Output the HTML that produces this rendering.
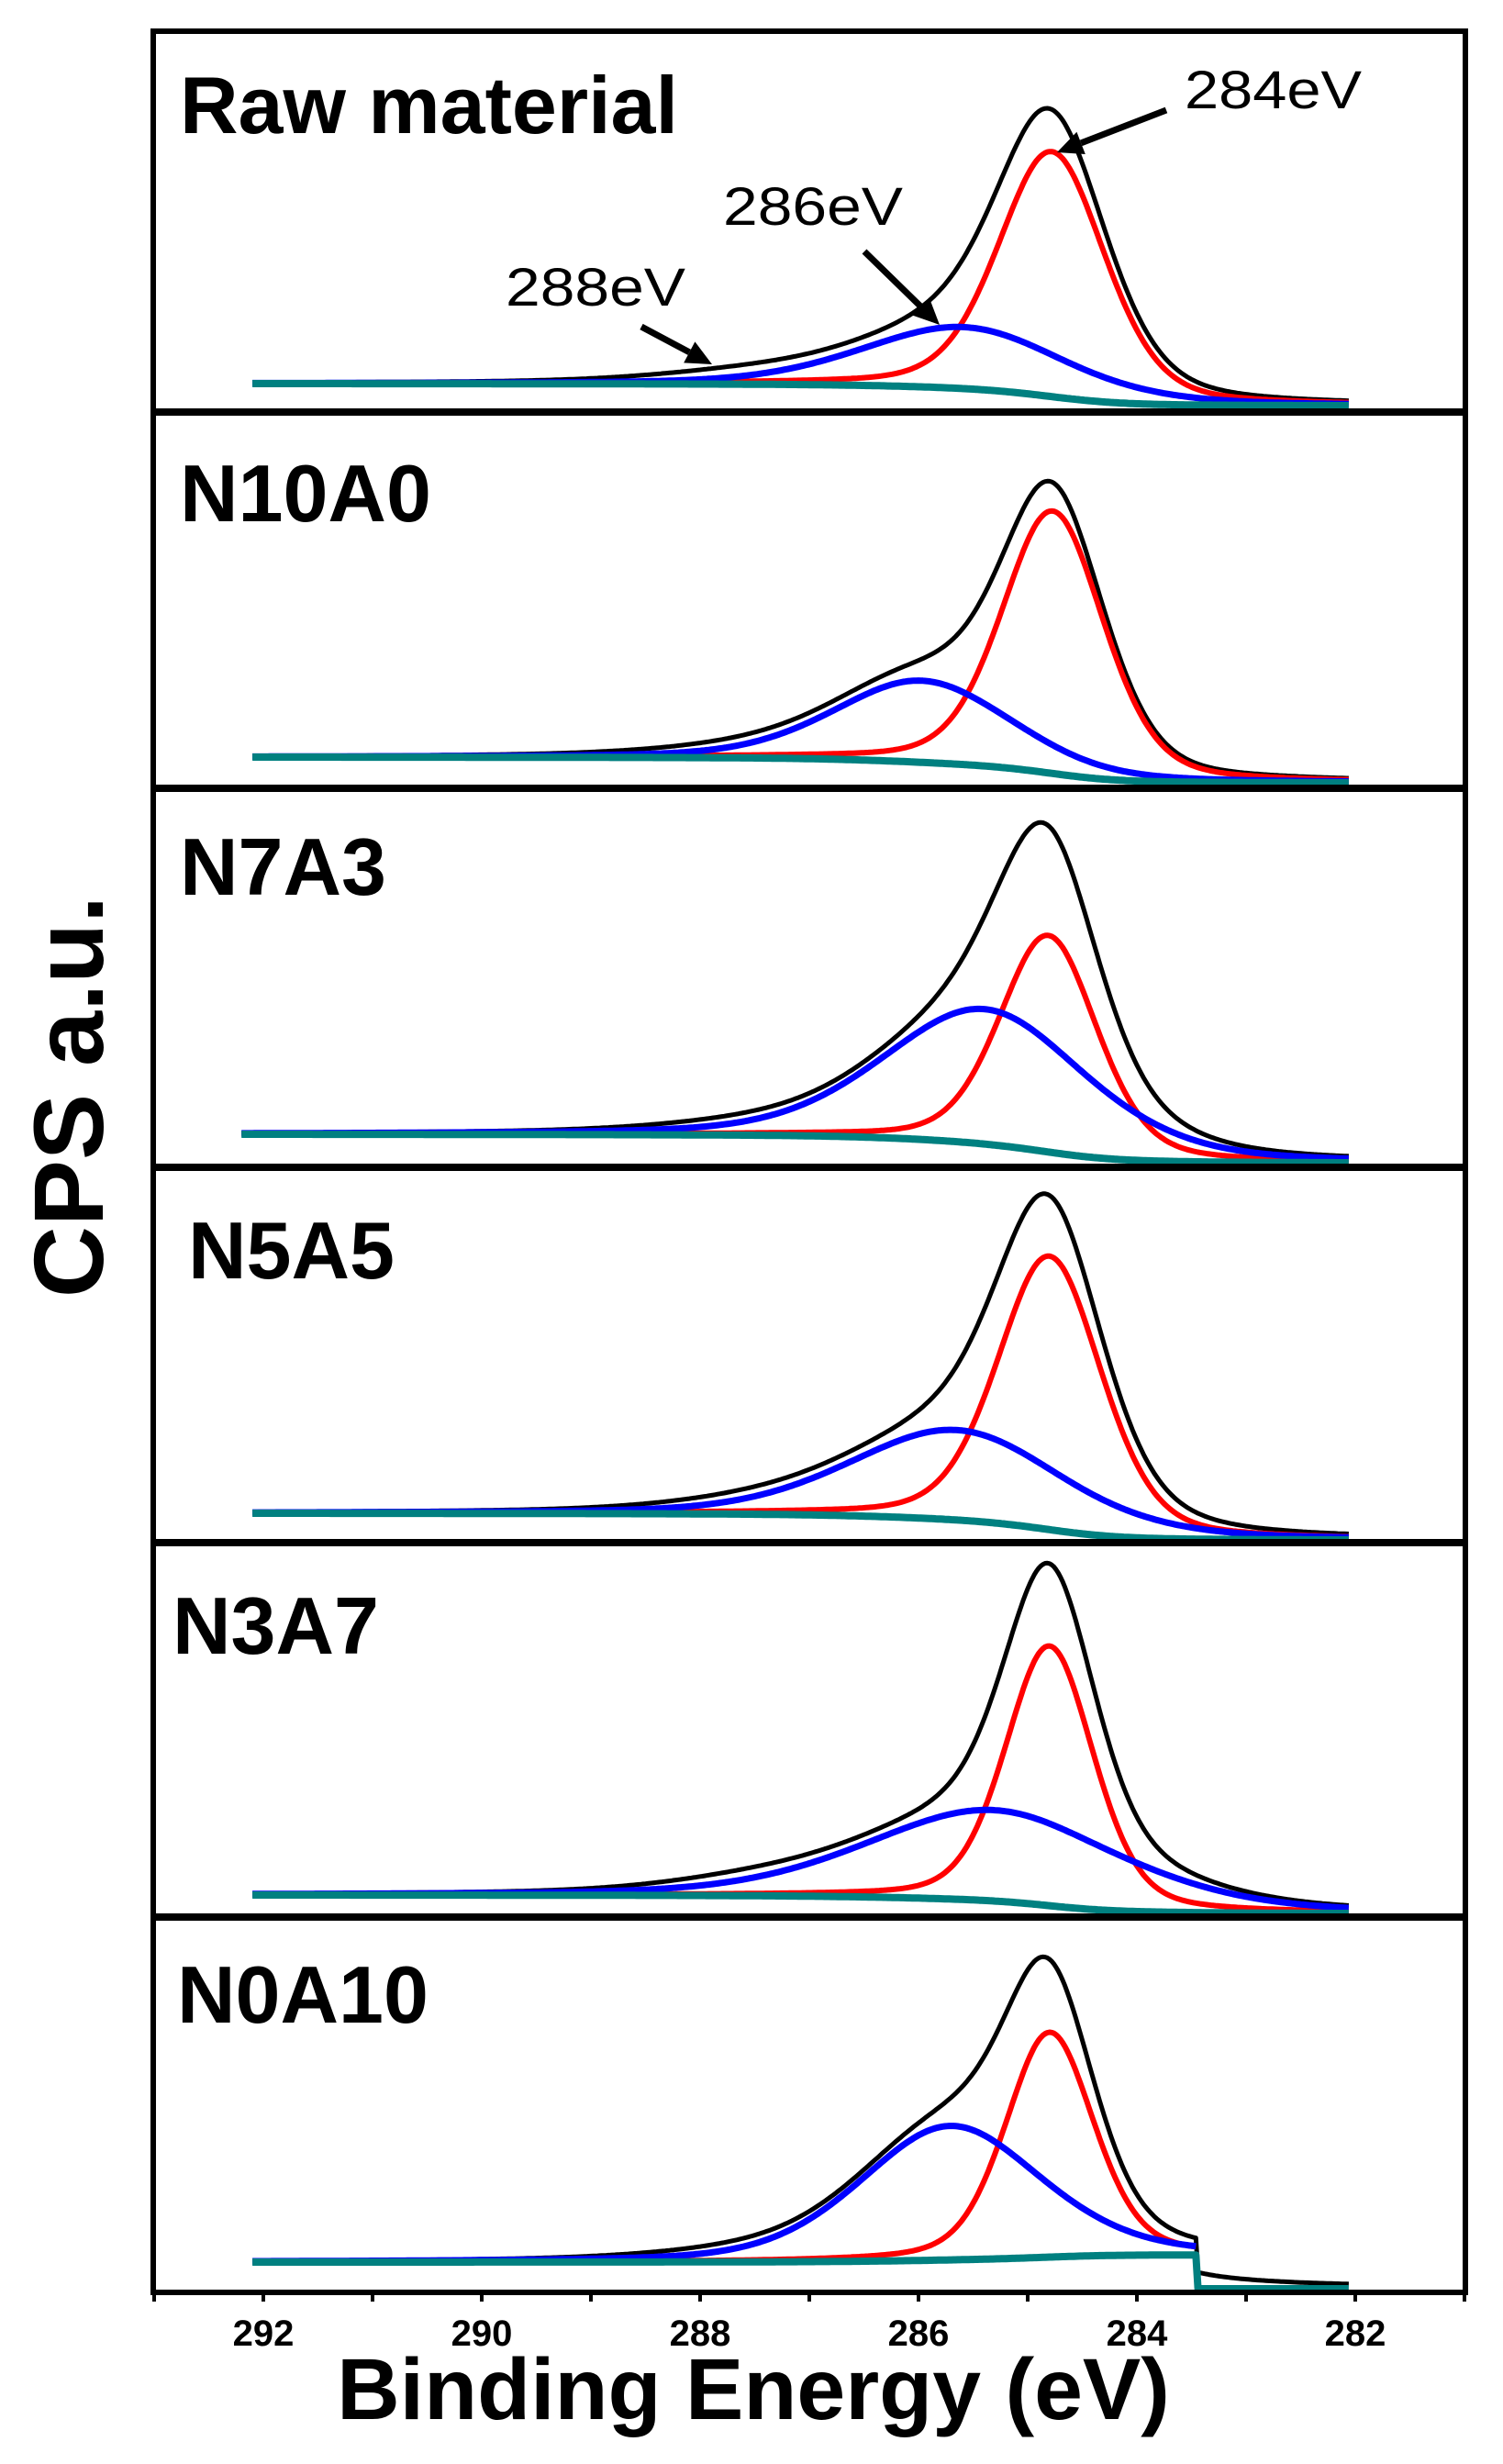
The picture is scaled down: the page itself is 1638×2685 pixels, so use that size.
<!DOCTYPE html>
<html><head><meta charset="utf-8"><style>
html,body{margin:0;padding:0;background:#fff;}
svg{display:block;font-family:"Liberation Sans",sans-serif;}
</style></head><body>
<svg id="chart" width="1638" height="2685" viewBox="0 0 1638 2685" xmlns="http://www.w3.org/2000/svg">
<g id="curves"></g>
<g id="frame"></g>
<g id="labels"></g>
<text x="0" y="0" transform="translate(112,1195) rotate(-90)" text-anchor="middle" font-size="108" font-weight="bold">CPS a.u.</text>
<text x="821" y="2636" text-anchor="middle" font-size="95" font-weight="bold">Binding Energy (eV)</text>
<g>
<text x="1291" y="118" font-size="58" textLength="193" lengthAdjust="spacingAndGlyphs">284eV</text>
<text x="788" y="245" font-size="58" textLength="196" lengthAdjust="spacingAndGlyphs">286eV</text>
<text x="551" y="333" font-size="58" textLength="196" lengthAdjust="spacingAndGlyphs">288eV</text>
</g>
</svg>
<script>
const panelNames = ["Raw material","N10A0","N7A3","N5A5","N3A7","N0A10"];
const redCenter = [284.78,284.77,284.81,284.8,284.8,284.8];
const redHeight = [267,286,236,298,283,245];
const redFwhm = [1.15,1.1,1.05,1.12,0.95,0.95];
const blueCenter = [285.58,285.97,285.39,285.65,285.3,285.71];
const blueHeight = [67,89,147,98,99,146];
const blueFwhm = [2.2,1.9,2.2,2.3,2.75,1.95];
const extraCenter = [287.6,287.6,287.6,287.6,287.6,287.6];
const extraHeight = [9,7,7,7,9,7];
const baseLeft = [418,825,1236,1649,2065,2465];
const baseRight = [442,853,1267,1678,2085,2457];
const cutEV = [null,null,null,null,null,283.45];
const xTicks = [292,290,288,286,284,282];

const NS="http://www.w3.org/2000/svg";
const X0=287, PXEV=119;
function xs(e){return X0+(292-e)*PXEV;}
const panelTops=[34,449,859,1272,1681,2089];
const panelBottom=2498, L=167, R=1597;
const labelPos=[[196,145],[196,568],[196,975],[205,1393],[188,1802],[193,2204]];
const ETA=0.3;
function g(e,c,h,w){const u=((e-c)/w)**2;return h*((1-ETA)*Math.exp(-4*Math.LN2*u)+ETA/(1+4*u));}
function mk(tag,attrs,parent){const el=document.createElementNS(NS,tag);for(const k in attrs)el.setAttribute(k,attrs[k]);parent.appendChild(el);return el;}
const cg=document.getElementById('curves');
for(let p=0;p<6;p++){
  const E0=p==2?292.2:292.1, E1=282.05, step=0.02;
  const es=[];for(let e=E0;e>=E1;e-=step)es.push(e);
  const cut=cutEV[p];
  const area=es.map(e=>g(e,redCenter[p],redHeight[p],redFwhm[p])+g(e,blueCenter[p],blueHeight[p],blueFwhm[p]));
  const cum=new Array(es.length);let s=0;
  for(let i=es.length-1;i>=0;i--){s+=area[i];cum[i]=s;}
  const tot=cum[0];
  const base=es.map((e,i)=>{
    if(cut!==null&&e<cut)return panelBottom-4;
    return baseRight[p]+(baseLeft[p]-baseRight[p])*cum[i]/tot;});
  const red=[],blue=[],teal=[],blk=[];
  es.forEach((e,i)=>{
    const x=xs(e).toFixed(1);
    let rv=g(e,redCenter[p],redHeight[p],redFwhm[p]);
    let bv=g(e,blueCenter[p],blueHeight[p],blueFwhm[p]);
    const xv=g(e,extraCenter[p],extraHeight[p],2.0);
    const inside=(cut===null||e>=cut);
    if(inside){red.push(x+','+(base[i]-rv).toFixed(1));blue.push(x+','+(base[i]-bv).toFixed(1));}
    teal.push(x+','+base[i].toFixed(1));
    blk.push(x+','+(base[i]-rv-bv-xv).toFixed(1));
  });
  const grp=mk('g',{},cg);
  
  
  const kl=mk('polyline',{points:blk.join(' '),fill:'none',stroke:'#000','stroke-width':5,'stroke-linejoin':'round'},grp);
  
  
  const rl=mk('polyline',{points:red.join(' '),fill:'none',stroke:'#ff0000','stroke-width':6,'stroke-linejoin':'round'},grp);
  
  
  const bl=mk('polyline',{points:blue.join(' '),fill:'none',stroke:'#0000ff','stroke-width':7,'stroke-linejoin':'round'},grp);
  
  
  const tl=mk('polyline',{points:teal.join(' '),fill:'none',stroke:'#008080','stroke-width':8,'stroke-linejoin':'round'},grp);
  
  
}
const fr=document.getElementById('frame');
mk('rect',{x:L,y:panelTops[0],width:R-L,height:panelBottom-panelTops[0],fill:'none',stroke:'#000','stroke-width':6},fr);
for(let p=1;p<6;p++){
  const d=mk('line',{x1:L,x2:R,y1:panelTops[p],y2:panelTops[p],stroke:'#000','stroke-width':8},fr);
  
  
}
for(let e=293;e>=281;e--){
  const t=mk('line',{x1:xs(e),x2:xs(e),y1:panelBottom,y2:panelBottom+10,stroke:'#000','stroke-width':4},fr);
  
  
}
xTicks.forEach(v=>{
  const t=mk('text',{x:xs(v),y:2556,'text-anchor':'middle','font-size':40,'font-weight':'bold'},fr);
  t.textContent=v;
  
  
});
const lb=document.getElementById('labels');
panelNames.forEach((n,i)=>{
  const t=mk('text',{x:labelPos[i][0],y:labelPos[i][1],'font-size':88,'font-weight':'bold'},lb);
  t.textContent=n;
  
  
});
const svg=document.getElementById('chart');
[[1271,120,1152,166],[942,274,1024,354],[699,356,776,397]].forEach(a=>{
  const [x1,y1,x2,y2]=a;const ang=Math.atan2(y2-y1,x2-x1);const hl=28,hw=13;
  const bx=x2-hl*Math.cos(ang),by=y2-hl*Math.sin(ang);
  const grp=mk('g',{},svg);
  
  
  mk('line',{x1:x1,y1:y1,x2:bx,y2:by,stroke:'#000','stroke-width':7},grp);
  mk('polygon',{points:`${x2},${y2} ${bx+hw*Math.sin(ang)},${by-hw*Math.cos(ang)} ${bx-hw*Math.sin(ang)},${by+hw*Math.cos(ang)}`,fill:'#000'},grp);
});
</script>
</body></html>
